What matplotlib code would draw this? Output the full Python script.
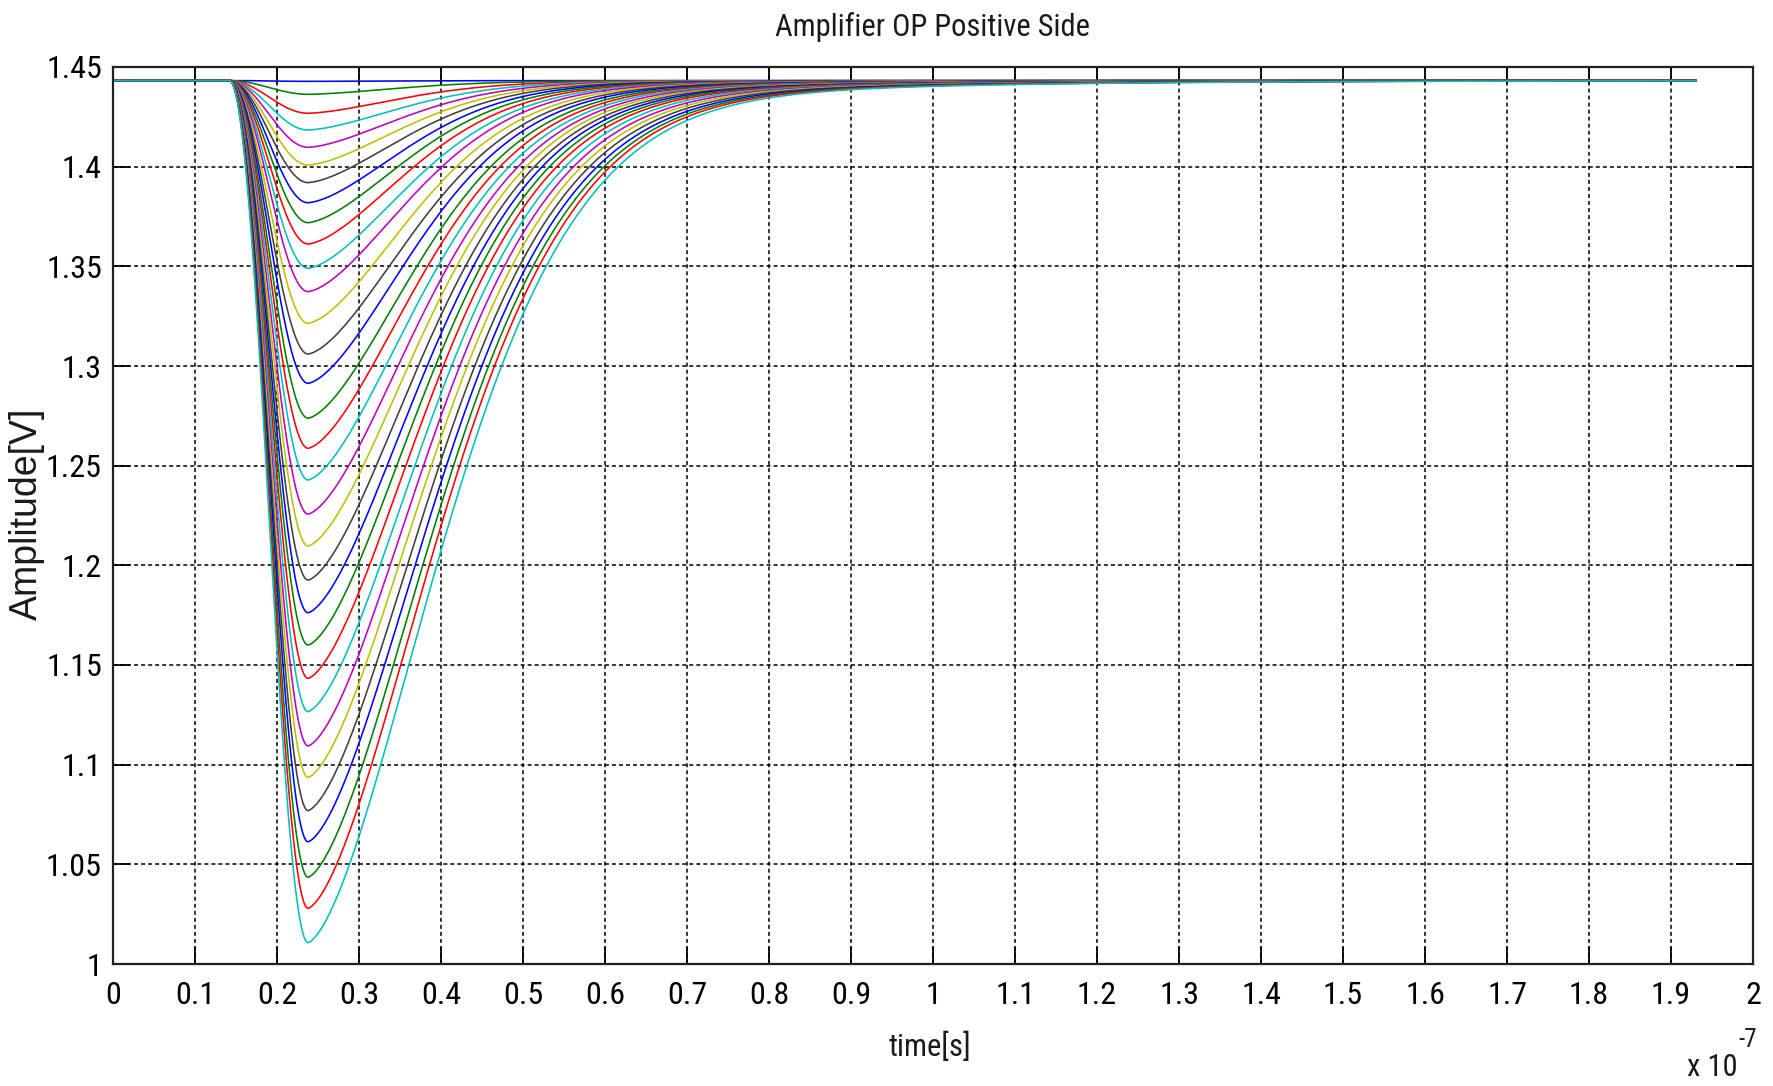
import os
import numpy as np
import matplotlib
matplotlib.use('Agg')
import matplotlib.pyplot as plt
from matplotlib import font_manager

# look for a narrow / condensed sans face (MATLAB Helvetica look)
_narrow_family = None
_narrow_stretch = 'normal'
for _key in ['LiberationSansNarrow-Regular', 'ArialNarrow', 'RobotoCondensed-Regular',
             'OpenSans_Condensed-Regular', 'OpenSansCondensed', 'NotoSans-Condensed',
             'NotoSansCondensed', 'DejaVuSansCondensed.']:
    for _f in font_manager.findSystemFonts():
        if _key.lower() in os.path.basename(_f).lower():
            try:
                font_manager.fontManager.addfont(_f)
                _prop = font_manager.FontProperties(fname=_f)
                _narrow_family = _prop.get_name()
                _ent = [e for e in font_manager.fontManager.ttflist if e.fname == _f]
                if _ent:
                    _narrow_stretch = _ent[0].stretch
                break
            except Exception:
                pass
    if _narrow_family:
        break
if _narrow_family is None:
    _narrow_family = 'Liberation Sans'

plt.rcParams['font.family'] = [_narrow_family, 'Liberation Sans', 'DejaVu Sans']
plt.rcParams['font.stretch'] = _narrow_stretch

# ---------------- data ----------------
baseline = 1.4432          # V, quiescent level
# minimum of each pulse (V), in plotting order
v_min = [1.4428, 1.4363, 1.4268, 1.4184, 1.4097, 1.4008, 1.3920, 1.3819,
         1.3719, 1.3612, 1.3490, 1.3373, 1.3214, 1.3060, 1.2913, 1.2738,
         1.2587, 1.2428, 1.2257, 1.2097, 1.1926, 1.1762, 1.1600, 1.1433,
         1.1266, 1.1094, 1.0936, 1.0769, 1.0613, 1.0435, 1.0279, 1.0107]
# recovery width of each pulse (x1e-7 s)
w_rec = [0.150, 0.152, 0.154, 0.156, 0.158, 0.160, 0.162, 0.164,
         0.166, 0.168, 0.170, 0.172, 0.174, 0.176, 0.178, 0.180,
         0.182, 0.184, 0.186, 0.188, 0.190, 0.192, 0.194, 0.196,
         0.199, 0.202, 0.205, 0.208, 0.211, 0.213, 0.215, 0.218]
t_start = 0.142            # start of falling edge (x1e-7 s)
t_min = 0.238              # time of minimum (x1e-7 s)
t_end = 1.93               # end of record (x1e-7 s)
p_shape = 1.65
tail_frac = 0.08
tail_ratio = 1.38

x_ticks = [0, 0.1, 0.2, 0.3, 0.4, 0.5, 0.6, 0.7, 0.8, 0.9, 1, 1.1, 1.2, 1.3,
           1.4, 1.5, 1.6, 1.7, 1.8, 1.9, 2]
y_ticks = [1, 1.05, 1.1, 1.15, 1.2, 1.25, 1.3, 1.35, 1.4, 1.45]
colors = ['#0000ff', '#008000', '#ff0000', '#00bfbf', '#bf00bf', '#bfbf00', '#404040']

t = np.linspace(0, t_end, 1931)


def pulse(vmin, w):
    A = baseline - vmin
    y = np.full_like(t, baseline)
    fall = (t >= t_start) & (t < t_min)
    u = (t[fall] - t_start) / (t_min - t_start)
    y[fall] = baseline - A * np.sin(np.pi * u / 2) ** 2
    rec = t >= t_min
    dt = t[rec] - t_min
    g = (1 - tail_frac) * np.exp(-(dt / w) ** p_shape) + tail_frac * np.exp(-dt / (w * tail_ratio))
    y[rec] = baseline - A * g
    return y


W, H = 1773, 1086
fig = plt.figure(figsize=(W / 100, H / 100), dpi=100)
L, R, T, B = 113, 1753, 67, 964
ax = fig.add_axes([L / W, 1 - B / H, (R - L) / W, (B - T) / H])

for i, (vm, w) in enumerate(zip(v_min, w_rec)):
    ax.plot(t, pulse(vm, w), color=colors[i % len(colors)], lw=1.15)

ax.set_xlim(0, 2)
ax.set_ylim(1, 1.45)
ax.set_xticks(x_ticks)
ax.set_xticklabels(['%g' % v for v in x_ticks])
ax.set_yticks(y_ticks)
ax.set_yticklabels(['%g' % v for v in y_ticks])
ax.grid(True, color='black', linestyle=(0, (2.6, 2.0)), linewidth=1.1)
ax.tick_params(direction='in', top=True, right=True, length=12, width=1.3,
               labelsize=23, colors='black')
ax.tick_params(axis='x', pad=12)
ax.tick_params(axis='y', pad=8)
for s in ax.spines.values():
    s.set_linewidth(1.6)
    s.set_color('#202020')

fig.text(933 / W, 1 - 27 / H, 'Amplifier OP Positive Side', ha='center', va='center',
         fontsize=22, color='#1a1a1a')
fig.text(930 / W, 1 - 1047 / H, 'time[s]', ha='center', va='center', fontsize=22,
         color='#1a1a1a')
fig.text(27 / W, 1 - 514 / H, 'Amplitude[V]', ha='center', va='center', rotation=90,
         fontsize=27, family=['Liberation Sans', 'DejaVu Sans'], stretch='normal',
         color='#1a1a1a')
fig.text(1712 / W, 1 - 1068 / H, 'x 10', ha='center', va='center', fontsize=22,
         color='#1a1a1a')
fig.text(1748 / W, 1 - 1040 / H, '-7', ha='center', va='center', fontsize=18,
         color='#1a1a1a')

fig.savefig('out.png', dpi=100, facecolor='white')
